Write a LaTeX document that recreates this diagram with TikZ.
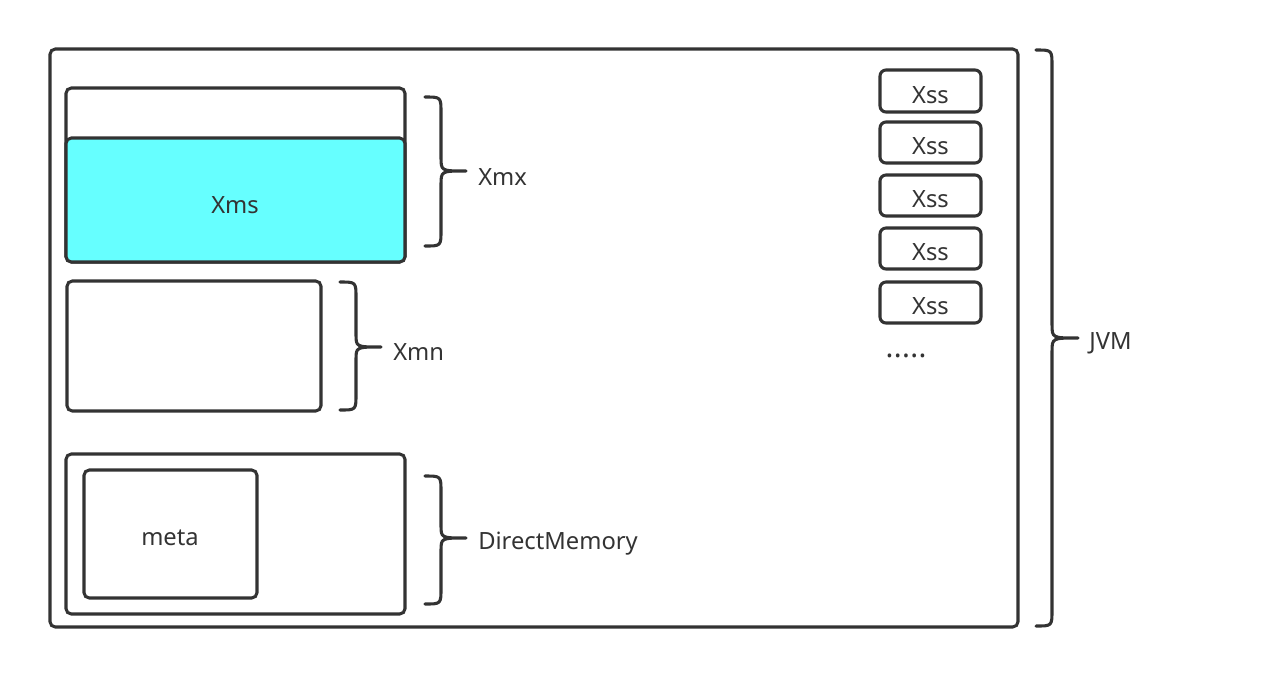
\documentclass[tikz,border=0pt]{standalone}
\usepackage{fontspec}
\setmainfont{Noto Sans}
\usetikzlibrary{fit}
\definecolor{ink}{HTML}{333333}
\definecolor{cyanfill}{HTML}{66FFFF}
\newcommand{\txtfont}{\fontsize{17.8}{20}\selectfont}
\tikzset{
  box/.style={draw=ink, line width=2.3pt, rounded corners=4pt, inner sep=0pt},
  xssbox/.style={box, rounded corners=4.5pt},
  txt/.style={text=ink, inner sep=0pt, font=\txtfont},
  brace/.style={draw=ink, line width=2.3pt, line cap=round, line join=round},
  lbl/.style={txt, anchor=west}
}
\begin{document}
\begin{tikzpicture}[x=0.75pt,y=-0.75pt]
\useasboundingbox (0,0) rectangle (1276,676);
% JVM outer
\node[box, fit={(50,49)(1018,627)}] (jvm) {};
% Xmx / Xms
\node[box, fit={(66,88)(405,262)}] (xmx) {};
\node[box, fill=cyanfill, fit={(66,138)(405,262)}] (xms) {};
\node[txt] (xmslbl) at (235,205) {Xms};
% Xmn
\node[box, fit={(67,281)(321,411)}] (xmn) {};
% DirectMemory
\node[box, fit={(66,454)(405,614)}] (dm) {};
\node[box, fit={(84,470)(257,598)}] (meta) {};
\node[txt] (metalbl) at (170,538) {meta};
% Xss boxes
\node[xssbox, fit={(880,70)(981,112)}] (xss1) {};
\node[xssbox, fit={(880,122)(981,163)}] (xss2) {};
\node[xssbox, fit={(880,175)(981,216)}] (xss3) {};
\node[xssbox, fit={(880,228)(981,269)}] (xss4) {};
\node[xssbox, fit={(880,282)(981,323)}] (xss5) {};
\foreach \i in {1,...,5} {\node[txt] (xsslbl\i) at ([yshift=-3pt]xss\i.center) {Xss};}
\node[txt, anchor=base, font=\fontsize{22}{24}\selectfont\bfseries] (dots) at (906,357) {.\kern0.3pt.\kern0.3pt.\kern0.3pt.\kern0.3pt.};
% braces
\draw[brace] (425,97) .. controls (441,97) .. (441,113) -- (441,157) .. controls (441,171) .. (466,171)
  .. controls (441,171) .. (441,185) -- (441,230) .. controls (441,246) .. (425,246);
\node[lbl] (xmxlbl) at (478,177) {Xmx};
\draw[brace] (340,282) .. controls (356,282) .. (356,298) -- (356,334) .. controls (356,347) .. (381,347)
  .. controls (356,347) .. (356,360) -- (356,394) .. controls (356,410) .. (340,410);
\node[lbl] (xmnlbl) at (393,352) {Xmn};
\draw[brace] (425,476) .. controls (441,476) .. (441,492) -- (441,525) .. controls (441,538) .. (466,538)
  .. controls (441,538) .. (441,551) -- (441,588) .. controls (441,604) .. (425,604);
\node[lbl] (dmlbl) at (478,544) {DirectMemory};
\draw[brace] (1036,50) .. controls (1052,50) .. (1052,66) -- (1052,324) .. controls (1052,338) .. (1078,338)
  .. controls (1052,338) .. (1052,352) -- (1052,610) .. controls (1052,626) .. (1036,626);
\node[lbl] (jvmlbl) at (1089,343) {JVM};
\end{tikzpicture}
\end{document}
